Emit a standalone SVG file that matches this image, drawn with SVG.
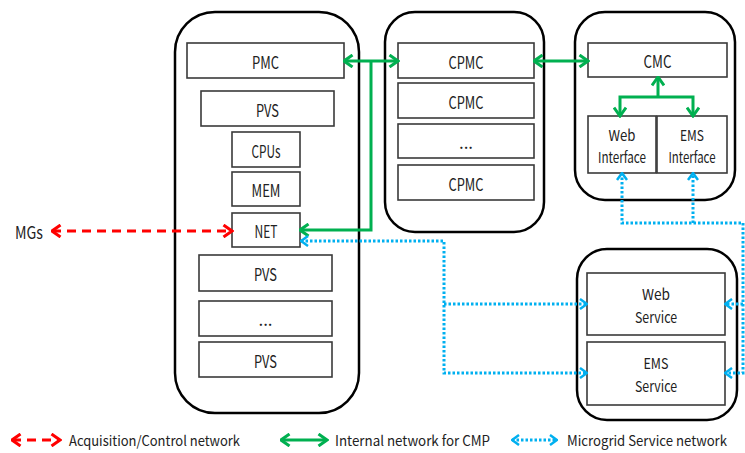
<svg xmlns="http://www.w3.org/2000/svg" width="745" height="453" viewBox="0 0 745 453">
  <style>
    text { font-family: "Noto Sans CJK KR", "Noto Sans", sans-serif; font-size: 17px; fill: #222; text-anchor: middle; dominant-baseline: central; }
    .two { font-size: 15px; }
    .legend { text-anchor: start; font-size: 14px; }
    .container { fill: #fff; stroke: #000; stroke-width: 2.5; }
    .box { fill: #fff; stroke: #3a3a3a; stroke-width: 1.6; }
    .green { fill: none; stroke: #00B050; stroke-width: 3; }
    .red { fill: none; stroke: #FF0000; stroke-width: 3; stroke-dasharray: 9 6; }
    .blue { fill: none; stroke: #00B0F0; stroke-width: 3; stroke-dasharray: 2.5 2; }
  </style>
  <defs>
    <marker id="arrowGreen" viewBox="0 0 12 14" refX="10.5" refY="7" markerWidth="12" markerHeight="14" markerUnits="userSpaceOnUse" orient="auto-start-reverse">
      <path d="M2,1 L10.5,7 L2,13" fill="none" stroke="#00B050" stroke-width="3"/>
    </marker>
    <marker id="arrowRed" viewBox="0 0 12 14" refX="10.5" refY="7" markerWidth="12" markerHeight="14" markerUnits="userSpaceOnUse" orient="auto-start-reverse">
      <path d="M2,1 L10.5,7 L2,13" fill="none" stroke="#FF0000" stroke-width="3"/>
    </marker>
    <marker id="arrowBlue" viewBox="0 0 10 12" refX="9" refY="6" markerWidth="10" markerHeight="12" markerUnits="userSpaceOnUse" orient="auto-start-reverse">
      <path d="M2,1 L9,6 L2,11" fill="none" stroke="#00B0F0" stroke-width="2.5"/>
    </marker>
  </defs>

  <!-- Physical machine -->
  <g id="pm">
    <rect class="container" x="175" y="12" width="184" height="401" rx="40"/>
    <g id="pmc"><rect class="box" x="187" y="43" width="157" height="35"/><text x="265.5" y="61" textLength="27" lengthAdjust="spacingAndGlyphs">PMC</text></g>
    <g id="pvs1"><rect class="box" x="201" y="91" width="133" height="35"/><text x="267.5" y="109" textLength="23" lengthAdjust="spacingAndGlyphs">PVS</text></g>
    <g id="cpus"><rect class="box" x="232" y="132" width="68" height="35"/><text x="266" y="150" textLength="29" lengthAdjust="spacingAndGlyphs">CPUs</text></g>
    <g id="mem"><rect class="box" x="232" y="172" width="68" height="34"/><text x="266" y="189" textLength="29" lengthAdjust="spacingAndGlyphs">MEM</text></g>
    <g id="net"><rect class="box" x="232" y="213" width="68" height="34"/><text x="266" y="230" textLength="23" lengthAdjust="spacingAndGlyphs">NET</text></g>
    <g id="pvs2"><rect class="box" x="199" y="255" width="133" height="36"/><text x="265.5" y="273" textLength="23" lengthAdjust="spacingAndGlyphs">PVS</text></g>
    <g id="pvs-more"><rect class="box" x="199" y="301" width="133" height="35"/><text x="265.5" y="318" font-size="13">...</text></g>
    <g id="pvs3"><rect class="box" x="199" y="342" width="133" height="35"/><text x="265.5" y="360" textLength="23" lengthAdjust="spacingAndGlyphs">PVS</text></g>
  </g>

  <!-- Cluster of physical machine controllers -->
  <g id="cpmc-group">
    <rect class="container" x="385" y="12" width="159" height="220" rx="30"/>
    <g id="cpmc1"><rect class="box" x="398" y="43" width="136" height="35"/><text x="466" y="61" textLength="35" lengthAdjust="spacingAndGlyphs">CPMC</text></g>
    <g id="cpmc2"><rect class="box" x="398" y="83" width="136" height="35"/><text x="466" y="101" textLength="35" lengthAdjust="spacingAndGlyphs">CPMC</text></g>
    <g id="cpmc-more"><rect class="box" x="398" y="124" width="136" height="34"/><text x="466" y="141" font-size="13">...</text></g>
    <g id="cpmc3"><rect class="box" x="398" y="165" width="136" height="35"/><text x="466" y="183" textLength="35" lengthAdjust="spacingAndGlyphs">CPMC</text></g>
  </g>

  <!-- Cluster management controller -->
  <g id="cmc-group">
    <rect class="container" x="575" y="12" width="160" height="188" rx="30"/>
    <g id="cmc"><rect class="box" x="588" y="43" width="139" height="34"/><text x="657.5" y="60" textLength="28" lengthAdjust="spacingAndGlyphs">CMC</text></g>
    <g id="web-if"><rect class="box" x="588" y="116" width="68" height="57"/><text class="two" x="622" y="134" textLength="27" lengthAdjust="spacingAndGlyphs">Web</text><text class="two" x="622" y="156" textLength="48" lengthAdjust="spacingAndGlyphs">Interface</text></g>
    <g id="ems-if"><rect class="box" x="657" y="116" width="70" height="57"/><text class="two" x="692" y="134" textLength="24" lengthAdjust="spacingAndGlyphs">EMS</text><text class="two" x="692" y="156" textLength="47" lengthAdjust="spacingAndGlyphs">Interface</text></g>
  </g>

  <!-- Microgrid services -->
  <g id="services">
    <rect class="container" x="577" y="249" width="160" height="171" rx="30"/>
    <g id="web-svc"><rect class="box" x="587" y="273" width="138" height="62"/><text class="two" x="656" y="293" textLength="28" lengthAdjust="spacingAndGlyphs">Web</text><text class="two" x="656" y="316" textLength="42" lengthAdjust="spacingAndGlyphs">Service</text></g>
    <g id="ems-svc"><rect class="box" x="587" y="342" width="138" height="63"/><text class="two" x="656" y="362" textLength="25" lengthAdjust="spacingAndGlyphs">EMS</text><text class="two" x="656" y="385" textLength="42" lengthAdjust="spacingAndGlyphs">Service</text></g>
  </g>

  <g id="mgs"><text x="29" y="231" textLength="28" lengthAdjust="spacingAndGlyphs">MGs</text></g>

  <g id="connectors">
    <!-- internal network for CMP -->
    <line class="green" x1="344" y1="61" x2="398" y2="61" marker-start="url(#arrowGreen)" marker-end="url(#arrowGreen)"/>
    <path class="green" d="M371,61 V230 H300" marker-end="url(#arrowGreen)"/>
    <line class="green" x1="534" y1="61" x2="588" y2="61" marker-start="url(#arrowGreen)" marker-end="url(#arrowGreen)"/>
    <path class="green" d="M658,97 V77" marker-end="url(#arrowGreen)"/>
    <path class="green" d="M620,116 V97 H693 V116" marker-start="url(#arrowGreen)" marker-end="url(#arrowGreen)"/>

    <!-- acquisition / control network -->
    <line class="red" x1="52" y1="231" x2="232" y2="231" marker-start="url(#arrowRed)" marker-end="url(#arrowRed)"/>

    <!-- microgrid service network -->
    <path class="blue" d="M301,241 H444 V373 H587" marker-start="url(#arrowBlue)" marker-end="url(#arrowBlue)"/>
    <path class="blue" d="M444,304 H587" marker-end="url(#arrowBlue)"/>
    <path class="blue" d="M622,173 V223 H743 V373 H725" marker-start="url(#arrowBlue)" marker-end="url(#arrowBlue)"/>
    <path class="blue" d="M693,223 V173" marker-end="url(#arrowBlue)"/>
    <path class="blue" d="M743,304 H725" marker-end="url(#arrowBlue)"/>
  </g>

  <!-- legend -->
  <g id="legend">
    <line class="red" x1="12" y1="440" x2="60" y2="440" stroke-dasharray="8 5" marker-start="url(#arrowRed)" marker-end="url(#arrowRed)"/>
    <text class="legend" x="69" y="440" textLength="171" lengthAdjust="spacingAndGlyphs">Acquisition/Control network</text>
    <line class="green" x1="281" y1="440" x2="327" y2="440" marker-start="url(#arrowGreen)" marker-end="url(#arrowGreen)"/>
    <text class="legend" x="335" y="440" textLength="155" lengthAdjust="spacingAndGlyphs">Internal network for CMP</text>
    <line class="blue" x1="512" y1="440" x2="557" y2="440" marker-start="url(#arrowBlue)" marker-end="url(#arrowBlue)"/>
    <text class="legend" x="567" y="440" textLength="160" lengthAdjust="spacingAndGlyphs">Microgrid Service network</text>
  </g>
</svg>
